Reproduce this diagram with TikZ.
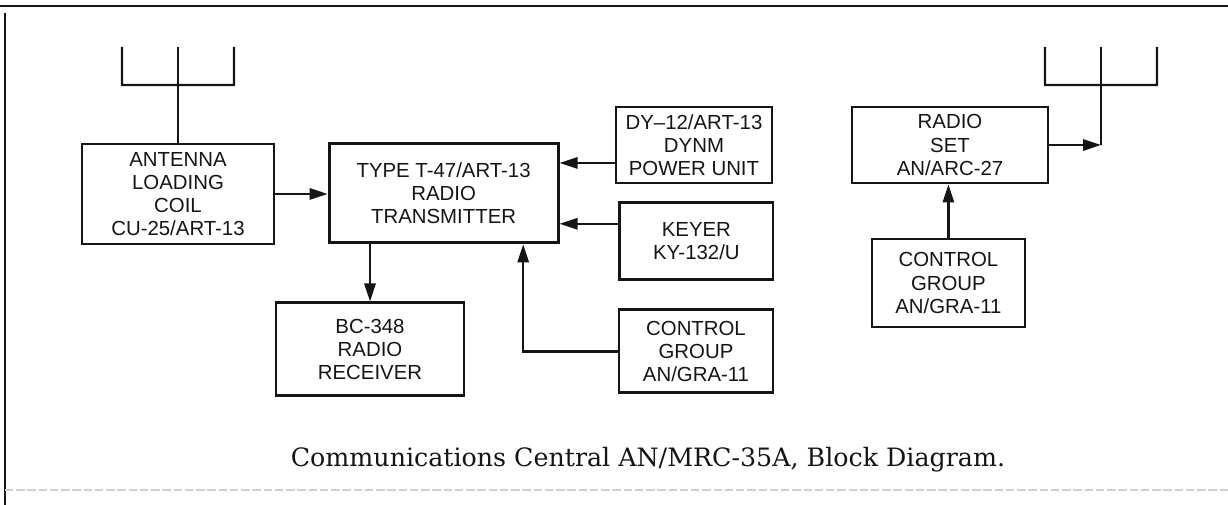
\documentclass[tikz,border=0pt]{standalone}
\usepackage{fontspec}
\setsansfont{Liberation Sans}
\newfontfamily\captionserif{DejaVu Serif}
\usetikzlibrary{arrows.meta,calc,positioning}
\definecolor{ink}{HTML}{151515}
\definecolor{scanGray}{HTML}{D0D0D0}
\tikzset{
    >={Triangle[length=4.5mm,width=2.8mm]},
    unit box/.style={draw=ink, line width=2pt, align=center, inner sep=0pt,
                     font=\sffamily\fontsize{14.5}{16.5}\selectfont, text=ink},
    signal path/.style={ink, line width=1.6pt, ->},
    antenna wire/.style={ink, line width=1.5pt},
    frame line/.style={ink, line width=1.5pt},
    caption text/.style={font=\captionserif\fontsize{18}{22}\selectfont, text=ink},
}
\begin{document}
\begin{tikzpicture}[font=\sffamily]
\useasboundingbox (0,0) rectangle (30.7,12.625);

% Page frame left over from the scan.
\draw[frame line] (0,12.475) -- (30.7,12.475);
\draw[frame line] (0.125,12.3) -- (0.125,0);
\draw[scanGray, line width=0.8pt, dash pattern=on 6pt off 2pt] (0.125,0.375) -- (30.7,0.375);

% Transmitter chain.
\node[unit box, minimum width=4.8cm, minimum height=2.5cm] (coil) at (4.45,7.775)
    {ANTENNA\\LOADING\\COIL\\CU-25/ART-13};
\node[unit box, minimum width=5.725cm, minimum height=2.475cm] (tx) at (11.09,7.79)
    {TYPE T-47/ART-13\\RADIO\\TRANSMITTER};
\node[unit box, minimum width=3.9cm, minimum height=1.9cm] (dyn) at (17.35,9.0)
    {DY--12/ART-13\\DYNM\\POWER UNIT};
\node[unit box, minimum width=3.825cm, minimum height=1.925cm] (keyer) at (17.41,6.59)
    {KEYER\\KY-132/U};
\node[unit box, minimum width=3.85cm, minimum height=2.075cm] (ctl) at (17.4,3.84)
    {CONTROL\\GROUP\\AN/GRA-11};
\node[unit box, minimum width=4.7cm, minimum height=2.325cm] (rx) at (9.25,3.89)
    {BC-348\\RADIO\\RECEIVER};

% Separate radio set with its own control group.
\node[unit box, minimum width=4.9cm, minimum height=1.9cm] (radio) at (23.75,9.0)
    {RADIO\\SET\\AN/ARC-27};
\node[unit box, minimum width=3.825cm, minimum height=2.2cm] (ctl2) at (23.71,5.55)
    {CONTROL\\GROUP\\AN/GRA-11};

% Antennas.
\coordinate (ant1) at (4.45,10.5);
\coordinate (ant2) at (27.525,10.5);
\coordinate (ant2foot) at (ant2 |- radio.east);
\foreach \a in {ant1,ant2} {
    \draw[antenna wire] ([shift={(-1.4,0.95)}]\a) -- ([xshift=-1.4cm]\a)
        -- ([xshift=1.4cm]\a) -- ([shift={(1.4,0.95)}]\a);
}
\draw[antenna wire] (coil.north) -- ([yshift=0.95cm]ant1);
\draw[antenna wire] ([yshift=0.95cm]ant2) -- (ant2foot);

% Signal paths.
\coordinate (dynout) at ($(dyn.west)+(0,-0.45)$);
\coordinate (keyout) at ($(keyer.west)+(0,0.44)$);
\draw[signal path] (coil.east) -- (coil.east -| tx.west);
\draw[signal path] (dynout) -- (dynout -| tx.east);
\draw[signal path] (keyout) -- (keyout -| tx.east);
\draw[signal path] (ctl.west) -| ([xshift=1.99cm]tx.south);
\draw[signal path] (tx.south -| rx.north) -- (rx.north);
\draw[signal path] (ctl2.north) -- (ctl2.north |- radio.south);
\draw[signal path] (radio.east) -- (ant2foot);

\node[caption text, anchor=base] (caption) at (16.2,0.95)
    {Communications Central AN/MRC-35A, Block Diagram.};

\end{tikzpicture}
\end{document}
